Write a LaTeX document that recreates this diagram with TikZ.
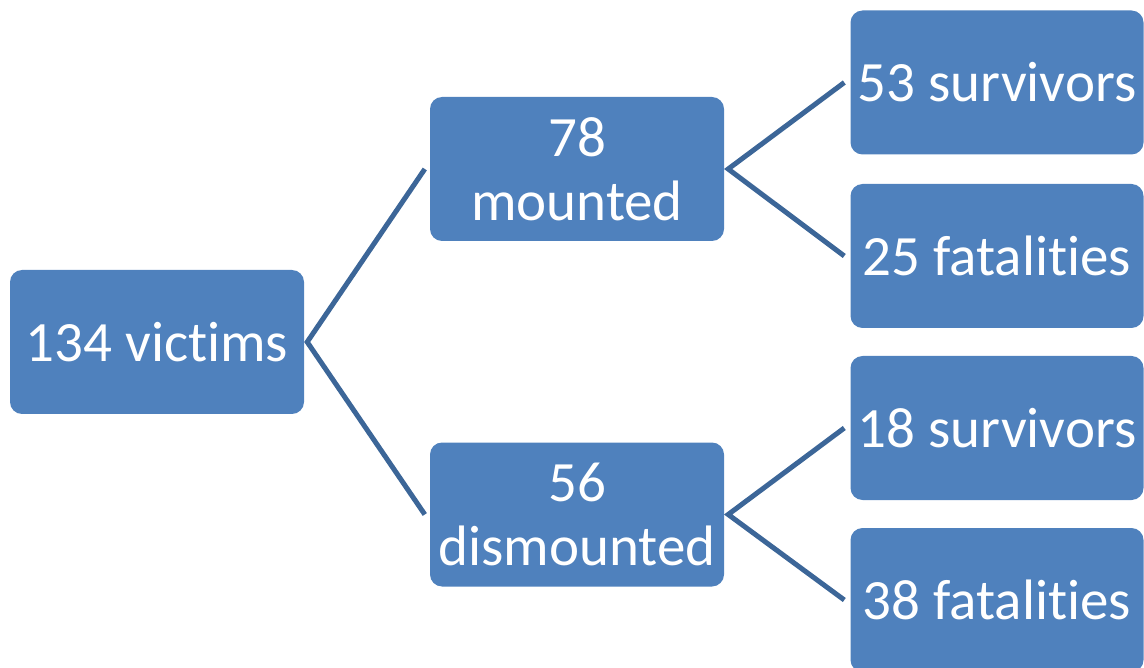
\documentclass[tikz,border=0pt]{standalone}
\usepackage{fontspec}
\setmainfont[Ligatures=NoCommon]{Carlito}
\definecolor{boxblue}{RGB}{79,129,189}
\definecolor{linkblue}{RGB}{60,102,152}
\newcommand{\tinolig}{t\kern0pt i}
\begin{document}
\begin{tikzpicture}[x=1pt,y=-1pt,
  box/.style={draw=none,fill=boxblue,rounded corners=12pt,text=white,
    minimum width=294pt,minimum height=144pt,inner sep=0pt,align=center,
    font=\fontsize{57}{64}\selectfont},
  link/.style={draw=linkblue,line width=5pt}]
\useasboundingbox (0,0) rectangle (1144,668);
\node[box] (victims) at (157,342) {134 vic\tinolig ms};
\node[box] (mounted) at (577,169) {78\\mounted};
\node[box] (dismounted) at (577,514.5) {56\\dismounted};
\node[box,minimum width=293pt] (s53) at (997,82.5) {53 survivors};
\node[box,minimum width=293pt] (f25) at (997,256) {25 fatali\tinolig es};
\node[box,minimum width=293pt] (s18) at (997,428) {18 survivors};
\node[box,minimum width=293pt] (f38) at (997,600) {38 fatali\tinolig es};
\coordinate (v0) at ([xshift=3pt]victims.east);
\coordinate (m0) at ([xshift=4pt]mounted.east);
\coordinate (d0) at ([xshift=4pt]dismounted.east);
\draw[link] ([xshift=-5pt]mounted.west) -- (v0) -- ([xshift=-5pt]dismounted.west);
\draw[link] ([xshift=-6pt]s53.west) -- (m0) -- ([xshift=-6pt]f25.west);
\draw[link] ([xshift=-6pt]s18.west) -- (d0) -- ([xshift=-6pt]f38.west);
\end{tikzpicture}
\end{document}
